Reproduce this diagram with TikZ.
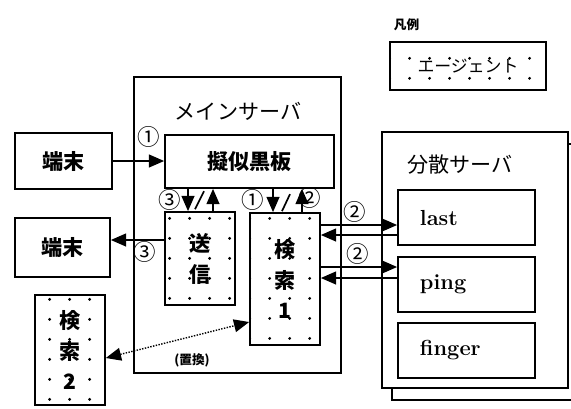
\documentclass[tikz,border=0pt]{standalone}
\usepackage{fontspec}
\usepackage{tikz}
\usetikzlibrary{arrows.meta,patterns,shadows}
\newfontfamily\jp{Noto Sans CJK JP}
\pgfdeclarepatternformonly{agentdots}{\pgfpointorigin}{\pgfpoint{0.5cm}{0.5cm}}{\pgfpoint{0.5cm}{0.5cm}}{%
  \pgfpathcircle{\pgfpoint{0.25cm}{0.25cm}}{0.04cm}\pgfusepath{fill}}

\begin{document}
\begin{tikzpicture}[x=0.025cm,y=-0.025cm,>={Triangle[length=0.38cm,width=0.32cm]},
  box/.style={draw,line width=1.2pt,fill=white,inner sep=0pt},
  agent/.style={draw,line width=1.2pt,pattern=agentdots,inner sep=0pt,align=center},
  jtext/.style={font=\jp\bfseries\fontsize{15}{22}\selectfont},
  cmdbox/.style={box,text width=2.325cm,inner xsep=0.55cm,minimum height=1.375cm,align=left,font=\bfseries\fontsize{15.5}{16}\selectfont},
  num/.style={font=\jp\fontsize{16}{16}\selectfont,inner sep=0pt},
  link/.style={line width=1.2pt}]
\useasboundingbox (0,0) rectangle (571,408);

\node[font=\jp\bfseries\fontsize{9}{9}\selectfont,anchor=west] (legendtitle) at (389,25) {凡例};
\node[agent,minimum width=3.9cm,minimum height=1.2cm,font=\jp\fontsize{12}{12}\selectfont] (legend) at (468,66) {エージェント};

\node[box,minimum width=5.175cm,minimum height=7.4cm] (main) at (237.5,225) {};
\node[font=\jp\fontsize{15}{15}\selectfont] (maintitle) at (238,111) {メインサーバ};
\node[box,jtext,minimum width=4.225cm,minimum height=1.325cm] (board) at (249.5,161.5) {擬似黒板};
\node[box,jtext,minimum width=2.425cm,minimum height=1.4cm] (term1) at (63.5,161) {端末};
\node[box,jtext,minimum width=2.375cm,minimum height=1.475cm] (term2) at (62.5,247.5) {端末};
\node[agent,jtext,minimum width=1.75cm,minimum height=2.325cm] (send) at (200,258.5) {送\\信};
\node[agent,jtext,minimum width=1.75cm,minimum height=3.3cm] (search1) at (285,279) {検\\索\\1};
\node[agent,jtext,minimum width=1.75cm,minimum height=2.75cm] (search2) at (70,350) {検\\索\\2};

\node[box,copy shadow={shadow xshift=0.25cm,shadow yshift=-0.3cm,line width=1.2pt},minimum width=4.65cm,minimum height=6.4cm] (dist) at (475,260) {};
\node[font=\jp\fontsize{15}{15}\selectfont] (disttitle) at (460,165) {分散サーバ};
\node[cmdbox] (last) at (466.5,217.5) {last};
\node[cmdbox] (ping) at (466.5,284.5) {ping};
\node[cmdbox] (finger) at (466.5,350.5) {finger};

\draw[link,->] (term1.east) -- (term1.east -| board.west);
\node[num] (n1a) at (149,137) {①};
\path (send.west) ++(0,-18.5) coordinate (sw);
\draw[link,->] (sw) -- (sw -| term2.east);
\node[num] (n3a) at (145,252) {③};

\path (send.north) ++(-12,0) coordinate (sd) ++(25,0) coordinate (su);
\draw[link,->] (sd |- board.south) -- (sd);
\draw[link,->] (su) -- (su |- board.south);
\draw[link] (sd) ++(7,-2) -- ++(9,-18);
\node[num] (n3b) at (170,200) {③};

\path (search1.north) ++(-12,0) coordinate (kd) ++(29,0) coordinate (ku);
\draw[link,->] (kd |- board.south) -- (kd);
\draw[link,->] (ku) -- (ku |- board.south);
\draw[link] (kd) ++(9,-1) -- ++(8,-17);
\node[num] (n1b) at (253,200) {①};
\node[num] (n2a) at (310,198) {②};

\path (last.west) ++(0,7.5) coordinate (l1) ++(0,10) coordinate (l2);
\draw[link,->] (l1 -| search1.east) -- (l1);
\draw[link,->] (l2) -- (l2 -| search1.east);
\node[num] (n2b) at (355,212) {②};
\path (ping.west) ++(0,-17.5) coordinate (p1) ++(0,11) coordinate (p2);
\draw[link,->] (p1 -| search1.east) -- (p1);
\draw[link,->] (p2) -- (p2 -| search1.east);
\node[num] (n2c) at (358,254) {②};

\path (search1.west) ++(0,43) coordinate (r1);
\path (search2.east) ++(0,8) coordinate (r2);
\draw[line width=1pt,densely dotted,<->] (r2) -- (r1);
\node[font=\jp\bfseries\fontsize{9}{9}\selectfont] (swap) at (192,360) {(置換)};
\end{tikzpicture}
\end{document}
